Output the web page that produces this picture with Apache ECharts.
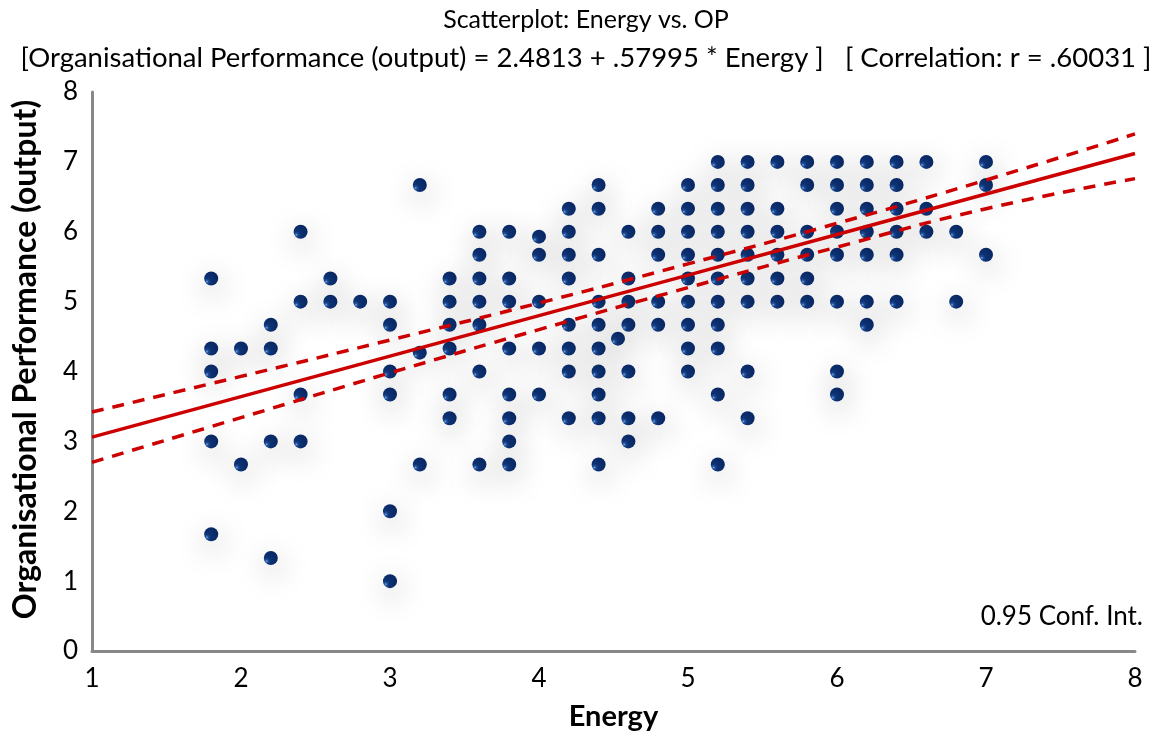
<!DOCTYPE html>
<html>
<head>
<meta charset="utf-8">
<script src="https://cdn.jsdelivr.net/npm/echarts@6/dist/echarts.min.js"></script>
<style>
html,body{margin:0;padding:0;background:#fff;}
#chart{width:1172px;height:736px;}
</style>
</head>
<body>
<div id="chart"></div>
<script>
// Energy (x) and Organisational Performance (y) of each respondent
const energy = [
  1.8,1.8,1.8,1.8,1.8,
  2.0,2.0,
  2.2,2.2,2.2,2.2,
  2.4,2.4,2.4,2.4,
  2.6,2.6,
  2.8,
  3.0,3.0,3.0,3.0,3.0,3.0,
  3.2,3.2,3.2,
  3.4,3.4,3.4,3.4,3.4,3.4,
  3.6,3.6,3.6,3.6,3.6,3.6,3.6,
  3.8,3.8,3.8,3.8,3.8,3.8,3.8,3.8,
  4.0,4.0,4.0,4.0,4.0,
  4.2,4.2,4.2,4.2,4.2,4.2,4.2,4.2,
  4.4,4.4,4.4,4.4,4.4,4.4,4.4,4.4,4.4,4.4,
  4.53,
  4.6,4.6,4.6,4.6,4.6,4.6,4.6,
  4.8,4.8,4.8,4.8,4.8,4.8,
  5.0,5.0,5.0,5.0,5.0,5.0,5.0,5.0,5.0,
  5.2,5.2,5.2,5.2,5.2,5.2,5.2,5.2,5.2,5.2,5.2,
  5.4,5.4,5.4,5.4,5.4,5.4,5.4,5.4,5.4,
  5.6,5.6,5.6,5.6,5.6,5.6,
  5.8,5.8,5.8,5.8,5.8,5.8,
  6.0,6.0,6.0,6.0,6.0,6.0,6.0,6.0,
  6.2,6.2,6.2,6.2,6.2,6.2,6.2,
  6.4,6.4,6.4,6.4,6.4,6.4,
  6.6,6.6,6.6,
  6.8,6.8,
  7.0,7.0,7.0
];
const op = [
  5.33,4.33,4.0,3.0,1.67,
  4.33,2.67,
  4.67,4.33,3.0,1.33,
  6.0,5.0,3.67,3.0,
  5.33,5.0,
  5.0,
  5.0,4.67,4.0,3.67,2.0,1.0,
  6.67,4.27,2.67,
  5.33,5.0,4.67,4.33,3.67,3.33,
  6.0,5.67,5.33,5.0,4.67,4.0,2.67,
  6.0,5.33,5.0,4.33,3.67,3.33,3.0,2.67,
  5.93,5.67,5.0,4.33,3.67,
  6.33,6.0,5.67,5.33,4.67,4.33,4.0,3.33,
  6.67,6.33,5.67,5.0,4.67,4.33,4.0,3.67,3.33,2.67,
  4.47,
  6.0,5.33,5.0,4.67,4.0,3.33,3.0,
  6.33,6.0,5.67,5.0,4.67,3.33,
  6.67,6.33,6.0,5.67,5.33,5.0,4.67,4.33,4.0,
  7.0,6.67,6.33,6.0,5.67,5.33,5.0,4.67,4.33,3.67,2.67,
  7.0,6.67,6.33,6.0,5.67,5.33,5.0,4.0,3.33,
  7.0,6.33,6.0,5.67,5.33,5.0,
  7.0,6.67,6.0,5.67,5.33,5.0,
  7.0,6.67,6.33,6.0,5.67,5.0,4.0,3.67,
  7.0,6.67,6.33,6.0,5.67,5.0,4.67,
  7.0,6.67,6.33,6.0,5.67,5.0,
  7.0,6.33,6.0,
  6.0,5.0,
  7.0,6.67,5.67
];
// Regression line and 0.95 confidence band
const bandX   = [1, 2, 3, 4, 5, 6, 7, 8];
const fitY    = [3.06, 3.64, 4.22, 4.80, 5.38, 5.96, 6.54, 7.12];
const upperY  = [3.42, 3.93, 4.45, 4.98, 5.54, 6.12, 6.74, 7.40];
const lowerY  = [2.70, 3.34, 3.98, 4.60, 5.20, 5.78, 6.33, 6.76];
const xTicks = [1, 8, 1];   // min, max, interval
const yTicks = [0, 8, 1];

const titleLine1 = 'Scatterplot: Energy vs. OP';
const titleLine2 = '[Organisational Performance (output) = 2.4813 + .57995 * Energy ]   [ Correlation: r = .60031 ]';

const FONT = 'Lato';
const points = energy.map((e, i) => [e, op[i]]);
const toPairs = ys => bandX.map((x, i) => [x, ys[i]]);

const chart = echarts.init(document.getElementById('chart'), null, {renderer: 'canvas'});
chart.setOption({
  backgroundColor: '#ffffff',
  animation: false,
  title: [
    {text: titleLine1, left: 'center', top: 2,
     textStyle: {fontFamily: FONT, fontWeight: 'normal', fontSize: 25, color: '#000'}},
    {text: titleLine2, left: 'center', top: 39,
     textStyle: {fontFamily: FONT, fontWeight: 'normal', fontSize: 27.5, color: '#000'}}
  ],
  grid: {left: 92, right: 37, top: 92, bottom: 84, containLabel: false},
  xAxis: {
    type: 'value', min: xTicks[0], max: xTicks[1], interval: xTicks[2],
    name: 'Energy', nameLocation: 'middle', nameGap: 51,
    nameTextStyle: {fontFamily: FONT, fontWeight: 'bold', fontSize: 29, color: '#000'},
    axisLine: {show: true, lineStyle: {color: '#888', width: 3}},
    axisTick: {show: false},
    splitLine: {show: false},
    axisLabel: {fontFamily: FONT, fontSize: 26, color: '#000', margin: 15}
  },
  yAxis: {
    type: 'value', min: yTicks[0], max: yTicks[1], interval: yTicks[2],
    name: 'Organisational Performance (output)', nameLocation: 'middle', nameGap: 50,
    nameTextStyle: {fontFamily: FONT, fontWeight: 'bold', fontSize: 32, color: '#000',
                    padding: [0, 0, 0, 24]},
    axisLine: {show: true, lineStyle: {color: '#888', width: 3}},
    axisTick: {show: false},
    splitLine: {show: false},
    axisLabel: {fontFamily: FONT, fontSize: 26, color: '#000', margin: 14}
  },
  graphic: [
    {type: 'text', right: 29, top: 604,
     style: {text: '0.95 Conf. Int.', fontFamily: FONT, fontSize: 26, fill: '#000'}}
  ],
  series: [
    {
      type: 'scatter', data: points, symbolSize: 14, z: 2,
      itemStyle: {
        opacity: 1,
        color: {type: 'radial', x: 0.2, y: 0.72, r: 0.9, colorStops: [
          {offset: 0, color: '#7ea8e4'},
          {offset: 0.12, color: '#1f4f9a'},
          {offset: 0.3, color: '#0d3273'},
          {offset: 1, color: '#082560'}
        ]},
        shadowBlur: 28, shadowColor: 'rgba(0,0,0,0.33)', shadowOffsetX: 2, shadowOffsetY: 8
      }
    },
    {type: 'line', data: toPairs(fitY), showSymbol: false, symbol: 'none', z: 3,
     lineStyle: {color: '#cc0000', width: 3.5}},
    {type: 'line', data: toPairs(upperY), showSymbol: false, symbol: 'none', smooth: true, z: 3,
     lineStyle: {color: '#cc0000', width: 3.5, type: [12, 9]}},
    {type: 'line', data: toPairs(lowerY), showSymbol: false, symbol: 'none', smooth: true, z: 3,
     lineStyle: {color: '#cc0000', width: 3.5, type: [12, 9]}}
  ]
});
</script>
</body>
</html>
